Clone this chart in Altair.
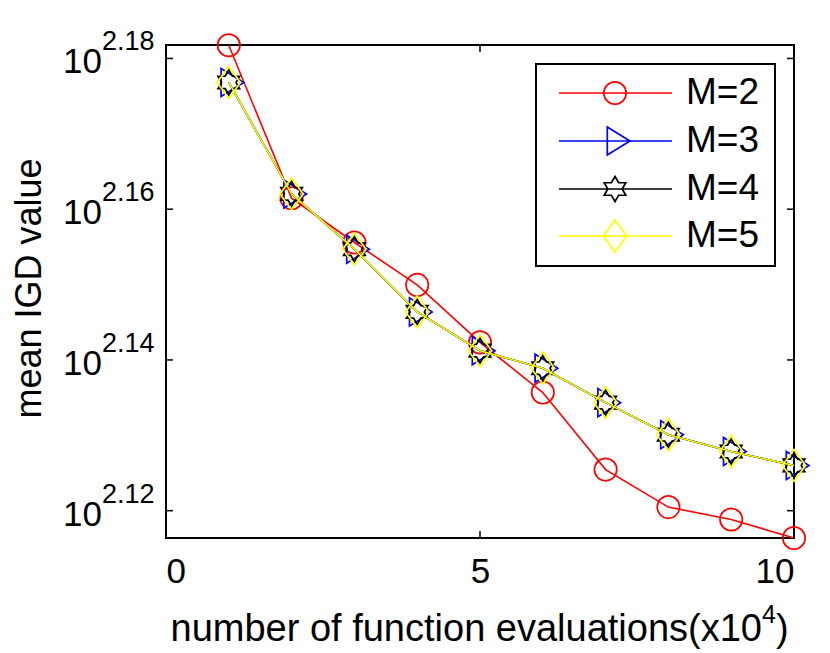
import math
import altair as alt
import pandas as pd

# ---------------- data ----------------
evals = [1, 2, 3, 4, 5, 6, 7, 8, 9, 10]
series_names = ["M=2", "M=3", "M=4", "M=5"]
igd_m2 = [151.97, 145.03, 143.08, 141.24, 138.78, 136.67, 133.49, 131.97, 131.47, 130.73]
igd_m3 = [150.25, 145.22, 142.79, 140.08, 138.43, 137.69, 136.25, 134.92, 134.23, 133.66]
igd_m4 = [150.25, 145.22, 142.79, 140.08, 138.43, 137.69, 136.25, 134.92, 134.23, 133.66]
igd_m5 = [150.25, 145.22, 142.79, 140.08, 138.43, 137.69, 136.25, 134.92, 134.23, 133.66]
x_ticks = [0, 5, 10]
y_tick_exps = ["2.12", "2.14", "2.16", "2.18"]
x_title_main = "number of function evaluations(x10"
x_title_sup = "4"
x_title_end = ")"
y_title = "mean IGD value"

values = {"M=2": igd_m2, "M=3": igd_m3, "M=4": igd_m4, "M=5": igd_m5}
rows = []
for s in series_names:
    for xv, yv in zip(evals, values[s]):
        rows.append({"x": xv, "y": yv, "series": s})
df = pd.DataFrame(rows)
xt = pd.DataFrame({"x": x_ticks})
yt = pd.DataFrame({"y": [10 ** float(e) for e in y_tick_exps], "lab": y_tick_exps})
one = pd.DataFrame({"k": [0]})

# ---------------- style ----------------
W, H = 628, 493
FONT = "Liberation Sans"
colors = {"M=2": "#ff0000", "M=3": "#0000ff", "M=4": "#000000", "M=5": "#ffff00"}

def hexagram(R=0.89, ri=0.515):
    pts = []
    for k in range(12):
        a = math.radians(-90 + 30 * k)
        r = R if k % 2 == 0 else ri
        pts.append((r * math.cos(a), r * math.sin(a)))
    return "M" + "L".join(f"{px:.3f},{py:.3f}" for px, py in pts) + "Z"

shapes = {
    "M=2": ("circle", 500),
    "M=3": ("M-0.55,-1L1.07,0L-0.55,1Z", 784),
    "M=4": (hexagram(), 784),
    "M=5": ("M0,-1.14L0.83,0L0,1.14L-0.83,0Z", 784),
}

xs = alt.Scale(domain=[0, 10], nice=False, zero=False)
ys = alt.Scale(type="log", domain=[130.73, 151.98], nice=False, zero=False)
xaxis = alt.Axis(values=x_ticks, ticks=False, domain=False, grid=False,
                 labelFontSize=35, labelFont=FONT, labelColor="black",
                 labelPadding=44, labelBaseline="alphabetic", title="")
yaxis = alt.Axis(labels=False, ticks=False, domain=False, grid=False,
                 title=y_title, titleFontSize=36, titleFont=FONT, titleColor="black",
                 titleFontWeight="normal", titleX=-126, titleY=243, titleAngle=270,
                 titleBaseline="alphabetic", titleAlign="center")
X = alt.X("x:Q", scale=xs, axis=xaxis)
Y = alt.Y("y:Q", scale=ys, axis=yaxis)

layers = []
# series lines and markers
for s in series_names:
    base = alt.Chart(df).transform_filter(alt.datum.series == s)
    layers.append(base.mark_line(color=colors[s], strokeWidth=1.6).encode(x=X, y=Y))
    shp, sz = shapes[s]
    layers.append(base.mark_point(shape=shp, size=sz, filled=False, color=colors[s],
                                  strokeWidth=1.7, opacity=1).encode(x=X, y=Y))

# inward ticks
layers.append(alt.Chart(xt).mark_rule(color="black", strokeWidth=1.5).encode(
    x=X, y=alt.value(H - 7), y2=alt.value(H)))
layers.append(alt.Chart(xt).mark_rule(color="black", strokeWidth=1.5).encode(
    x=X, y=alt.value(0), y2=alt.value(7)))
layers.append(alt.Chart(yt).mark_rule(color="black", strokeWidth=1.5).encode(
    y=Y, x=alt.value(0), x2=alt.value(7)))
layers.append(alt.Chart(yt).mark_rule(color="black", strokeWidth=1.5).encode(
    y=Y, x=alt.value(W - 7), x2=alt.value(W)))

# y tick labels: 10^exp
layers.append(alt.Chart(yt).mark_text(align="right", baseline="alphabetic", dy=15,
                                      fontSize=35, font=FONT, color="black").encode(
    y=Y, x=alt.value(-64), text=alt.value("10")))
layers.append(alt.Chart(yt).mark_text(align="left", baseline="alphabetic", dy=-8,
                                      fontSize=27, font=FONT, color="black").encode(
    y=Y, x=alt.value(-64), text="lab:N"))

# x axis title with superscript
layers.append(alt.Chart(one).mark_text(align="right", baseline="alphabetic", fontSize=38,
                                       font=FONT, color="black").encode(
    x=alt.value(596), y=alt.value(596), text=alt.value(x_title_main)))
layers.append(alt.Chart(one).mark_text(align="left", baseline="alphabetic", fontSize=25,
                                       font=FONT, color="black", dy=-18).encode(
    x=alt.value(596), y=alt.value(596), text=alt.value(x_title_sup)))
layers.append(alt.Chart(one).mark_text(align="left", baseline="alphabetic", fontSize=38,
                                       font=FONT, color="black").encode(
    x=alt.value(610), y=alt.value(596), text=alt.value(x_title_end)))

# legend
layers.append(alt.Chart(one).mark_rect(fill="white", stroke="black", strokeWidth=2).encode(
    x=alt.value(370), x2=alt.value(609), y=alt.value(19), y2=alt.value(221)))
leg = pd.DataFrame({"series": series_names, "i": list(range(len(series_names)))})
row_y = [48, 96, 144, 191]
for i, s in enumerate(series_names):
    b = alt.Chart(leg).transform_filter(alt.datum.series == s)
    layers.append(b.mark_rule(color=colors[s], strokeWidth=1.6).encode(
        x=alt.value(393), x2=alt.value(506), y=alt.value(row_y[i])))
    shp, sz = shapes[s]
    layers.append(b.mark_point(shape=shp, size=sz, filled=False, color=colors[s],
                               strokeWidth=1.7, opacity=1).encode(
        x=alt.value(449), y=alt.value(row_y[i])))
    layers.append(b.mark_text(align="left", baseline="middle", fontSize=37, font=FONT,
                              color="black").encode(
        x=alt.value(520), y=alt.value(row_y[i]), text="series:N"))

chart = alt.layer(*layers).properties(
    width=W, height=H,
    autosize=alt.AutoSizeParams(type="none"),
    padding={"left": 158, "top": 37, "right": 20, "bottom": 114},
).configure(font=FONT, background="white").configure_view(stroke="black", strokeWidth=2)

chart.save("out.html", embed_options={"renderer": "svg", "actions": False})
